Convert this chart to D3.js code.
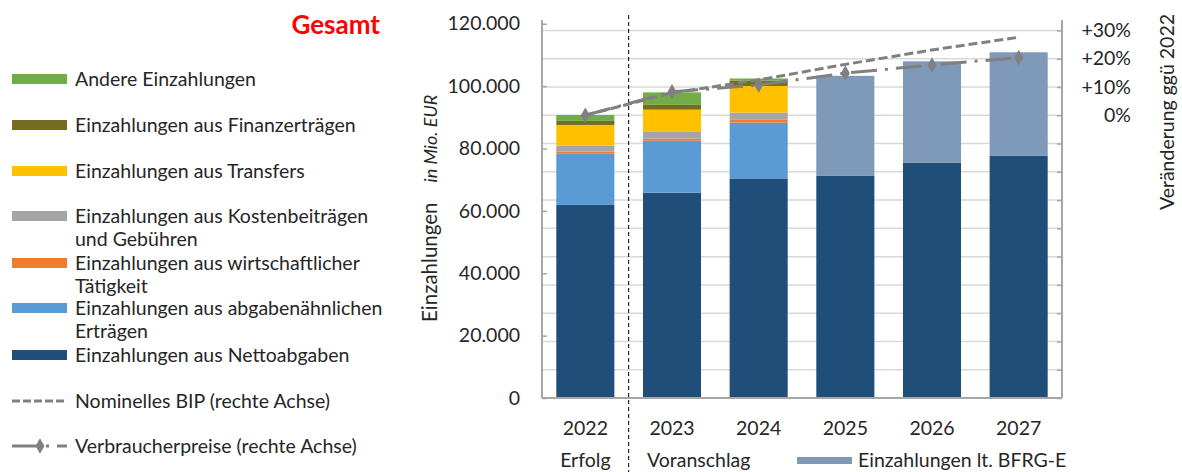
<!DOCTYPE html>
<html>
<head>
<meta charset="utf-8">
<script src="https://cdn.jsdelivr.net/npm/d3@7"></script>
<style>
  body { margin: 0; background: #fff; }
  text { font-family: Lato, "Open Sans", sans-serif; fill: #262626; }
</style>
</head>
<body>
<svg id="chart" width="1182" height="472"></svg>
<script>
// data
const years = ['2022', '2023', '2024', '2025', '2026', '2027']
const nettoabgaben = [61900, 65800, 70400, 71200, 75500, 77750]
const abgabenaehnlich = [16400, 16700, 17900, 0, 0, 0]
const wirtschaftlich = [700, 700, 1050, 0, 0, 0]
const kostenbeitraege = [1900, 2300, 2150, 0, 0, 0]
const transfers = [6650, 6950, 8550, 0, 0, 0]
const finanzertraege = [1300, 1700, 1750, 0, 0, 0]
const andere = [1900, 3850, 650, 0, 0, 0]
const bfrg = [0, 0, 0, 32100, 32450, 33100]
const bip = [0, 7.9, 12.5, 18.0, 23.1, 27.6]
const vpi = [0, 8.3, 10.7, 14.9, 17.8, 20.4]
const leftTicks = [0, 20000, 40000, 60000, 80000, 100000, 120000]

const series = [
  { key: 'netto', name: 'Einzahlungen aus Nettoabgaben', values: nettoabgaben, color: '#1f4e79' },
  { key: 'abg', name: 'Einzahlungen aus abgabenähnlichen|Erträgen', values: abgabenaehnlich, color: '#5b9bd5' },
  { key: 'wirt', name: 'Einzahlungen aus wirtschaftlicher|Tätigkeit', values: wirtschaftlich, color: '#ed7d31' },
  { key: 'kost', name: 'Einzahlungen aus Kostenbeiträgen|und Gebühren', values: kostenbeitraege, color: '#a5a5a5' },
  { key: 'trans', name: 'Einzahlungen aus Transfers', values: transfers, color: '#ffc000' },
  { key: 'fin', name: 'Einzahlungen aus Finanzerträgen', values: finanzertraege, color: '#756c22' },
  { key: 'and', name: 'Andere Einzahlungen', values: andere, color: '#70ad47' },
  { key: 'bfrg', name: 'Einzahlungen lt. BFRG-E', values: bfrg, color: '#7f99b9' }
]

const svg = d3.select('#chart')
const plotL = 542, plotR = 1062, plotT = 20, plotB = 398

const x = d3.scaleBand().domain(years).range([plotL, plotR]).paddingInner(0.33).paddingOuter(0.165)
const y = d3.scaleLinear().domain([0, 121200]).range([plotB, plotT])
const y2 = d3.scaleLinear().domain([-100, 33.7]).range([plotB, plotT])

const de = d3.formatLocale({ decimal: ',', thousands: '.', grouping: [3], currency: ['', ''] })
const fmt = de.format(',')

// gridlines (from the right axis)
svg.append('g')
  .selectAll('line')
  .data(d3.range(-90, 31, 10))
  .join('line')
  .attr('x1', plotL).attr('x2', plotR)
  .attr('y1', d => y2(d)).attr('y2', d => y2(d))
  .attr('stroke', '#d9d9d9').attr('stroke-width', 1.5)

// stacked bars
const table = years.map((yr, i) => {
  const row = { year: yr }
  series.forEach(s => { row[s.key] = s.values[i] })
  return row
})
const stack = d3.stack().keys(series.map(s => s.key))(table)

svg.append('g')
  .selectAll('g')
  .data(stack)
  .join('g')
  .attr('fill', (d, i) => series[i].color)
  .selectAll('rect')
  .data(d => d)
  .join('rect')
  .attr('x', d => x(d.data.year))
  .attr('width', x.bandwidth())
  .attr('y', d => y(d[1]))
  .attr('height', d => y(d[0]) - y(d[1]))

// axes
const axL = svg.append('g')
  .attr('transform', `translate(${plotL},0)`)
  .call(d3.axisLeft(y).tickValues(leftTicks).tickFormat(fmt).tickSize(-5).tickPadding(22))
axL.select('.domain').attr('d', `M0,${plotT}V${plotB}`)

const axR = svg.append('g')
  .attr('transform', `translate(${plotR},0)`)
  .call(d3.axisRight(y2).tickValues(d3.range(-100, 31, 10)).tickSize(-5)
    .tickFormat(d => d > 0 ? '+' + d + '%' : d === 0 ? '0%' : ''))
axR.select('.domain').attr('d', `M0,${plotT}V${plotB}`)
axR.selectAll('text').attr('x', 69).attr('text-anchor', 'end')

svg.selectAll('.domain').attr('stroke', '#a6a6a6').attr('stroke-width', 2)
svg.selectAll('.tick line').attr('stroke', '#a6a6a6').attr('stroke-width', 1.5)
svg.selectAll('.tick text').attr('font-size', 19.5).attr('fill', '#262626').attr('font-family', 'Lato')

svg.append('line')
  .attr('x1', plotL).attr('x2', plotR).attr('y1', plotB).attr('y2', plotB)
  .attr('stroke', '#a6a6a6').attr('stroke-width', 2)

svg.append('g')
  .selectAll('text')
  .data(years)
  .join('text')
  .attr('x', d => x(d) + x.bandwidth() / 2)
  .attr('y', 435)
  .attr('text-anchor', 'middle')
  .attr('font-size', 19.5)
  .text(d => d)

// separator Erfolg / Voranschlag
const sepX = (x('2022') + x.bandwidth() + x('2023')) / 2
svg.append('line')
  .attr('x1', sepX).attr('x2', sepX).attr('y1', 15).attr('y2', 472)
  .attr('stroke', '#000').attr('stroke-width', 1).attr('stroke-dasharray', '4,3')

svg.append('text').attr('x', x('2022') + x.bandwidth() / 2).attr('y', 467)
  .attr('text-anchor', 'middle').attr('font-size', 19.5).text('Erfolg')
svg.append('text').attr('x', 647).attr('y', 467).attr('font-size', 19.5).text('Voranschlag')
svg.append('rect').attr('x', 797).attr('y', 457).attr('width', 55).attr('height', 7).attr('fill', '#7f99b9')
svg.append('text').attr('x', 858).attr('y', 467).attr('font-size', 19.5).text('Einzahlungen lt. BFRG-E')

// lines on right axis
const cx = d => x(d) + x.bandwidth() / 2
const line = d3.line().x(d => cx(d[0])).y(d => y2(d[1]))

svg.append('path')
  .datum(years.map((yr, i) => [yr, bip[i]]))
  .attr('d', line)
  .attr('fill', 'none').attr('stroke', '#808080').attr('stroke-width', 3)
  .attr('stroke-dasharray', '9,4')

svg.append('path')
  .datum(years.map((yr, i) => [yr, vpi[i]]))
  .attr('d', line)
  .attr('fill', 'none').attr('stroke', '#808080').attr('stroke-width', 3)
  .attr('stroke-dasharray', '26,8,3,8')

const diamond = d3.symbol().type(d3.symbolDiamond).size(70)
svg.append('g')
  .selectAll('path')
  .data(years.map((yr, i) => [yr, vpi[i]]))
  .join('path')
  .attr('d', diamond)
  .attr('transform', d => `translate(${cx(d[0])},${y2(d[1])})`)
  .attr('fill', '#808080')

// axis titles
const yt = svg.append('text')
  .attr('transform', 'translate(437,322) rotate(-90)')
  .attr('font-size', 20.5)
yt.append('tspan').text('Einzahlungen')
yt.append('tspan').attr('dx', 20).attr('font-size', 18).attr('font-style', 'italic').text('in Mio. EUR')

svg.append('text')
  .attr('transform', 'translate(1174,112) rotate(-90)')
  .attr('text-anchor', 'middle')
  .attr('font-size', 19.5)
  .text('Veränderung ggü 2022')

// title
svg.append('text')
  .attr('x', 380).attr('y', 34)
  .attr('text-anchor', 'end')
  .attr('font-size', 26).attr('font-weight', 'bold')
  .style('fill', '#ff0000')
  .text('Gesamt')

// legend
const legendRows = [
  { s: series[6], y: 79 },
  { s: series[5], y: 125 },
  { s: series[4], y: 171 },
  { s: series[3], y: 216 },
  { s: series[2], y: 263 },
  { s: series[1], y: 308 },
  { s: series[0], y: 355 }
]
const lg = svg.append('g')
legendRows.forEach(r => {
  lg.append('rect').attr('x', 12).attr('y', r.y - 5).attr('width', 55).attr('height', 10).attr('fill', r.s.color)
  const parts = r.s.name.split('|')
  parts.forEach((p, j) => {
    lg.append('text').attr('x', 75).attr('y', r.y + 7 + j * 23).attr('font-size', 19.5).text(p)
  })
})

lg.append('line').attr('x1', 12).attr('x2', 67).attr('y1', 401).attr('y2', 401)
  .attr('stroke', '#808080').attr('stroke-width', 3).attr('stroke-dasharray', '8,3')
lg.append('text').attr('x', 75).attr('y', 408).attr('font-size', 19.5).text('Nominelles BIP (rechte Achse)')

lg.append('line').attr('x1', 12).attr('x2', 67).attr('y1', 446).attr('y2', 446)
  .attr('stroke', '#808080').attr('stroke-width', 3).attr('stroke-dasharray', '26,8,3,8')
lg.append('path').attr('d', diamond).attr('transform', 'translate(40,446)').attr('fill', '#808080')
lg.append('text').attr('x', 75).attr('y', 453).attr('font-size', 19.5).text('Verbraucherpreise (rechte Achse)')
</script>
</body>
</html>
